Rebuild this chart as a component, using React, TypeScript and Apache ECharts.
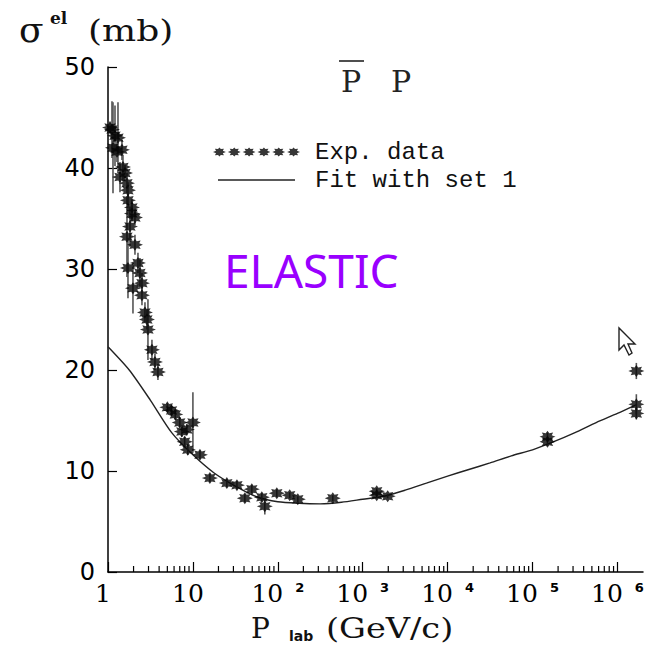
import React, { useEffect, useRef } from "react";
import * as echarts from "echarts";

// Experimental p̄p elastic cross sections: beam momentum (GeV/c), sigma (mb), error (mb)
const expMomentum = [
  1.056, 1.114, 1.145, 1.209, 1.276, 1.311, 1.384, 1.461, 1.501, 1.585,
  1.673, 1.719, 1.719, 1.815, 1.916, 1.916, 2.078, 1.673,
  1.968, 2.078, 2.254, 1.719, 2.379, 2.512, 2.512, 2.725, 2.876, 2.955,
  3.293, 3.573, 3.874,
  5.0, 5.6, 6.2, 7.0, 7.4, 8.5, 8.0, 8.7, 10.0, 12.1,
  15.85, 25.1, 33.0, 40.9, 49.4, 64.8, 70.3, 97.3, 138, 172,
  444, 1462, 1462, 1968, 150000, 150000, 1670000, 1670000, 1670000,
];
const expSigma = [
  44.0, 43.8, 42.0, 43.2, 41.6, 43.0, 39.1, 41.8, 40.1, 39.5,
  38.5, 37.8, 36.8, 34.2, 36.1, 35.5, 35.1, 33.2,
  28.1, 32.4, 30.6, 30.1, 29.6, 28.6, 27.4, 25.7, 25.0, 24.0,
  22.0, 20.8, 19.8,
  16.3, 16.0, 15.6, 14.8, 13.9, 14.1, 12.9, 12.1, 14.8, 11.6,
  9.3, 8.8, 8.6, 7.3, 8.2, 7.4, 6.5, 7.8, 7.6, 7.2,
  7.3, 8.0, 7.6, 7.5, 13.4, 12.9, 19.9, 16.6, 15.7,
];
const expError = [
  0.6, 2.8, 4.5, 3.0, 1.0, 3.5, 1.5, 1.0, 1.2, 0.8,
  1.0, 0.8, 0.8, 2.0, 0.8, 0.8, 0.8, 4.0,
  2.5, 1.0, 1.0, 3.0, 1.5, 1.0, 1.0, 1.0, 1.0, 3.0,
  1.0, 0.8, 0.8,
  0.4, 0.5, 0.4, 0.5, 0.5, 0.5, 0.5, 0.5, 3.0, 0.4,
  0.4, 0.4, 0.4, 0.4, 0.4, 0.4, 0.8, 0.4, 0.3, 0.3,
  0.3, 0.3, 0.3, 0.2, 0.4, 0.4, 0.8, 1.0, 0.6,
];

// Model curve, fit with set 1
const fitMomentum = [
  1, 1.778, 3.162, 5.623, 10, 17.78, 31.62, 56.23, 100, 177.8, 316.2, 562.3,
  1000, 1778, 3162, 5623, 10000, 17780, 31620, 56230, 100000, 177800,
  316200, 562300, 1000000, 1700000,
];
const fitSigma = [
  22.3, 20.0, 17.0, 13.8, 11.6, 9.8, 8.5, 7.45, 6.95, 6.8, 6.75, 6.9,
  7.2, 7.5, 8.1, 8.8, 9.5, 10.15, 10.8, 11.5, 12.1, 12.9,
  13.8, 14.8, 15.7, 16.6,
];

// Axis ticks
const xDecades = [0, 1, 2, 3, 4, 5, 6];
const xMinorMantissas = [2, 3, 4, 5, 6, 7, 8, 9];
const yTicks = [0, 10, 20, 30, 40, 50];

const X_MAX = 2e6;

function starPath(cx: number, rx: number, ry: number, inner: number): string {
  const pts: string[] = [];
  const n = 8;
  for (let i = 0; i < n * 2; i++) {
    const a = (Math.PI * i) / n;
    const outer = i % 2 === 0;
    const px = cx + (outer ? rx : inner * 1.15) * Math.cos(a);
    const py = (outer ? ry : inner) * Math.sin(a);
    pts.push(`${px.toFixed(2)} ${py.toFixed(2)}`);
  }
  return "M" + pts.join(" L") + " Z";
}

const markerSymbol = "path://" + starPath(0, 10, 8, 5);
const legendStars =
  "path://" + [0, 1, 2, 3, 4, 5].map((k) => starPath(k * 15, 6.5, 4.5, 3.2)).join(" ");

export default function App() {
  const ref = useRef<HTMLDivElement>(null);

  useEffect(() => {
    document.body.style.margin = "0";
    if (!ref.current) return;
    const chart = echarts.init(ref.current, undefined, { renderer: "svg" });

    const expPoints = expMomentum.map((p, i) => [p, expSigma[i]]);
    const errBars = expMomentum.map((p, i) => [
      p,
      expSigma[i] - expError[i],
      expSigma[i] + expError[i],
    ]);
    const fitLine = fitMomentum.map((p, i) => [p, fitSigma[i]]);
    const minorTicks: number[][] = [];
    xDecades.forEach((d) =>
      xMinorMantissas.forEach((m) => {
        const v = m * Math.pow(10, d);
        if (v < X_MAX) minorTicks.push([v, 0]);
      })
    );

    chart.setOption({
      animation: false,
      backgroundColor: "#fff",
      grid: { left: 108, top: 67, width: 535, height: 505 },
      legend: [
        {
          data: [{ name: "Exp. data", icon: legendStars }],
          left: 213,
          top: 140,
          padding: 0,
          itemWidth: 87,
          itemHeight: 9,
          selectedMode: false,
          textStyle: {
            fontFamily: "Liberation Mono",
            fontSize: 24,
            color: "#111",
            padding: [0, 0, 0, 10],
          },
        },
        {
          data: [{ name: "Fit with set 1", icon: "rect" }],
          left: 218,
          top: 168,
          padding: 0,
          itemWidth: 77,
          itemHeight: 1.5,
          selectedMode: false,
          itemStyle: { color: "#222" },
          textStyle: {
            fontFamily: "Liberation Mono",
            fontSize: 24,
            color: "#111",
            padding: [0, 0, 0, 15],
          },
        },
      ],
      xAxis: {
        type: "log",
        logBase: 10,
        min: 1,
        max: X_MAX,
        axisLine: { lineStyle: { color: "#000", width: 1.5 } },
        axisTick: { inside: true, length: 10, lineStyle: { color: "#000", width: 1.2 } },
        splitLine: { show: false },
        axisLabel: {
          showMaxLabel: false,
          margin: 9,
          color: "#000",
          formatter: (v: number) => {
            const e = Math.round(Math.log10(v));
            if (!xDecades.includes(e)) return "";
            if (e === 0) return "{a|1}";
            if (e === 1) return "{a|10}";
            return `{b|10}{sup|${e}}`;
          },
          rich: {
            a: { fontFamily: "DejaVu Serif", fontSize: 25, color: "#000", padding: [0, 10, 0, 0] },
            b: { fontFamily: "DejaVu Serif", fontSize: 25, color: "#000" },
            sup: {
              fontFamily: "DejaVu Sans",
              fontWeight: "bold",
              fontSize: 13,
              color: "#000",
              verticalAlign: "top",
              padding: [0, 0, 0, 12],
            },
          },
        },
      },
      yAxis: {
        type: "value",
        min: yTicks[0],
        max: yTicks[yTicks.length - 1],
        interval: 10,
        axisLine: { show: true, lineStyle: { color: "#000", width: 1.5 } },
        axisTick: { show: true, inside: true, length: 9, lineStyle: { color: "#000", width: 1.2 } },
        splitLine: { show: false },
        axisLabel: {
          fontFamily: "DejaVu Sans",
          fontSize: 24,
          color: "#000",
          margin: 13,
        },
      },
      series: [
        {
          name: "minor ticks",
          type: "custom",
          silent: true,
          data: minorTicks,
          renderItem: (_p: any, api: any) => {
            const pt = api.coord([api.value(0), 0]);
            return {
              type: "line",
              shape: { x1: pt[0], y1: pt[1], x2: pt[0], y2: pt[1] - 6 },
              style: { stroke: "#000", lineWidth: 1.2 },
            };
          },
          z: 1,
        },
        {
          name: "Fit with set 1",
          type: "line",
          data: fitLine,
          smooth: 0.25,
          symbol: "none",
          lineStyle: { color: "#222", width: 1.4 },
          itemStyle: { color: "#222" },
          z: 2,
        },
        {
          name: "error bars",
          type: "custom",
          silent: true,
          data: errBars,
          encode: { x: 0, y: [1, 2] },
          renderItem: (_p: any, api: any) => {
            const a = api.coord([api.value(0), api.value(1)]);
            const b = api.coord([api.value(0), api.value(2)]);
            return {
              type: "line",
              shape: { x1: a[0], y1: a[1], x2: b[0], y2: b[1] },
              style: { stroke: "#555", lineWidth: 1.6 },
            };
          },
          z: 3,
        },
        {
          name: "Exp. data",
          type: "scatter",
          data: expPoints,
          symbol: markerSymbol,
          symbolSize: [16, 12],
          itemStyle: { color: "#050505" },
          z: 4,
        },
      ],
      graphic: [
        {
          type: "text",
          x: 19,
          y: 29,
          style: { text: "σ", fontFamily: "DejaVu Serif", fontSize: 36, fill: "#111", verticalAlign: "middle", textVerticalAlign: "middle" },
        },
        {
          type: "text",
          x: 50,
          y: 18,
          style: { text: "el", fontFamily: "DejaVu Serif", fontWeight: "bold", fontSize: 17, fill: "#111", verticalAlign: "middle", textVerticalAlign: "middle" },
        },
        {
          type: "text",
          x: 88,
          y: 31,
          scaleX: 1.2,
          style: { text: "(mb)", fontFamily: "DejaVu Serif", fontSize: 30, fill: "#111", verticalAlign: "middle", textVerticalAlign: "middle" },
        },
        {
          type: "text",
          x: 341,
          y: 81,
          style: { text: "P", fontFamily: "DejaVu Serif", fontSize: 30, fill: "#222", verticalAlign: "middle", textVerticalAlign: "middle" },
        },
        {
          type: "line",
          shape: { x1: 339, y1: 61, x2: 364, y2: 61 },
          style: { stroke: "#222", lineWidth: 1.6 },
        },
        {
          type: "text",
          x: 391,
          y: 81,
          style: { text: "P", fontFamily: "DejaVu Serif", fontSize: 30, fill: "#222", verticalAlign: "middle", textVerticalAlign: "middle" },
        },
        {
          type: "text",
          x: 251,
          y: 628,
          style: { text: "P", fontFamily: "DejaVu Serif", fontSize: 28, fill: "#111", verticalAlign: "middle", textVerticalAlign: "middle" },
        },
        {
          type: "text",
          x: 289,
          y: 636,
          style: { text: "lab", fontFamily: "DejaVu Sans", fontWeight: "bold", fontSize: 14, fill: "#111", verticalAlign: "middle", textVerticalAlign: "middle" },
        },
        {
          type: "text",
          x: 326,
          y: 628,
          scaleX: 1.2,
          style: { text: "(GeV/c)", fontFamily: "DejaVu Serif", fontSize: 28, fill: "#111", verticalAlign: "middle", textVerticalAlign: "middle" },
        },
        {
          type: "text",
          x: 224,
          y: 270,
          style: { text: "ELASTIC", fontFamily: "Noto Sans", fontSize: 46, fill: "#9900ff", verticalAlign: "middle", textVerticalAlign: "middle" },
        },
        {
          type: "polygon",
          shape: {
            points: [
              [619, 328], [619, 350], [624, 345], [629, 355], [632, 353], [628, 344], [635, 344],
            ],
          },
          style: { fill: "#fff", stroke: "#222", lineWidth: 1.4 },
          z: 10,
        },
      ],
    });

    return () => chart.dispose();
  }, []);

  return <div ref={ref} style={{ width: 658, height: 648 }} />;
}
